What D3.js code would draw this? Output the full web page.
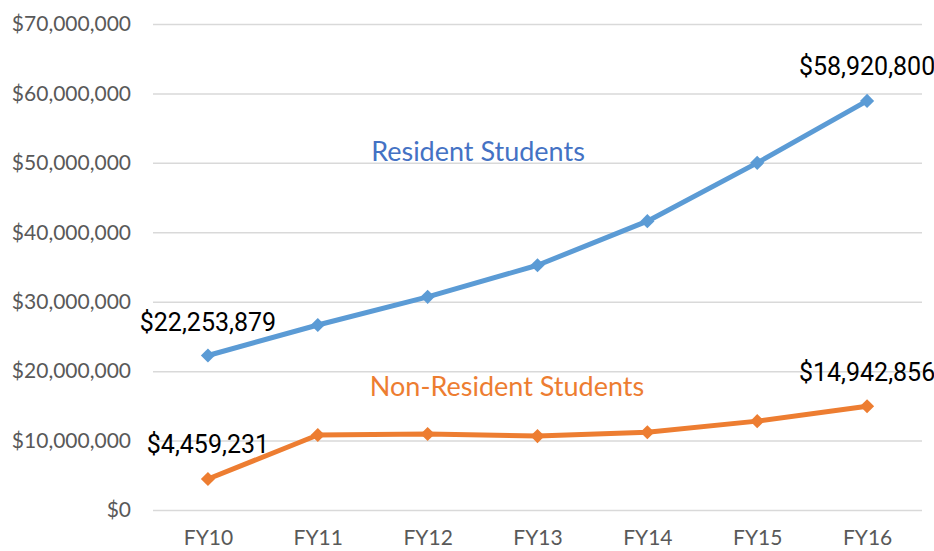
<!DOCTYPE html>
<html>
<head>
<meta charset="utf-8">
<script src="https://cdn.jsdelivr.net/npm/d3@7"></script>
<style>
  body { margin: 0; background: #fff; }
</style>
</head>
<body>
<div id="chart"></div>
<script>
// data
const years = ["FY10", "FY11", "FY12", "FY13", "FY14", "FY15", "FY16"];
const resident = [22253879, 26650000, 30700000, 35250000, 41600000, 50000000, 58920800];
const nonResident = [4459231, 10800000, 10950000, 10650000, 11200000, 12800000, 14942856];
const yTicks = [0, 10000000, 20000000, 30000000, 40000000, 50000000, 60000000, 70000000];

const width = 934,
  height = 551;
const margin = { top: 24, right: 12, bottom: 41, left: 153 };

const svg = d3
  .select("#chart")
  .append("svg")
  .attr("width", width)
  .attr("height", height)
  .attr("viewBox", [0, 0, width, height]);

const xScale = d3
  .scalePoint()
  .domain(years)
  .range([margin.left, width - margin.right])
  .padding(0.5);

const yScale = d3
  .scaleLinear()
  .domain([0, 70000000])
  .range([height - margin.bottom, margin.top]);

const fmt = (v) => "$" + d3.format(",")(v);

// gridlines + y labels
const yAxis = d3
  .axisLeft(yScale)
  .tickValues(yTicks)
  .tickSize(-(width - margin.left - margin.right))
  .tickPadding(22)
  .tickFormat(fmt);

const yG = svg
  .append("g")
  .attr("transform", `translate(${margin.left},0)`)
  .call(yAxis);
yG.select(".domain").remove();
yG.selectAll("line").attr("stroke", "#d9d9d9").attr("stroke-width", 1.5);
yG.selectAll("text")
  .attr("fill", "#595959")
  .style("font-family", "Lato, 'Open Sans', sans-serif")
  .style("font-size", "21px");

// x labels
const xAxis = d3.axisBottom(xScale).tickSize(0).tickPadding(20);
const xG = svg
  .append("g")
  .attr("transform", `translate(0,${height - margin.bottom})`)
  .call(xAxis);
xG.select(".domain").remove();
xG.selectAll("text")
  .attr("fill", "#595959")
  .style("font-family", "Lato, 'Open Sans', sans-serif")
  .style("font-size", "21px");

const series = [
  { name: "Resident Students", values: resident, color: "#5b9bd5" },
  { name: "Non-Resident Students", values: nonResident, color: "#ed7d31" },
];

const line = d3
  .line()
  .x((d, i) => xScale(years[i]))
  .y((d) => yScale(d));

series.forEach((s) => {
  svg
    .append("path")
    .datum(s.values)
    .attr("fill", "none")
    .attr("stroke", s.color)
    .attr("stroke-width", 5)
    .attr("stroke-linejoin", "round")
    .attr("d", line);

  // diamond markers
  svg
    .append("g")
    .selectAll("path")
    .data(s.values)
    .join("path")
    .attr("d", d3.symbol(d3.symbolSquare, 100))
    .attr("transform", (d, i) => `translate(${xScale(years[i])},${yScale(d)}) rotate(45)`)
    .attr("fill", s.color);
});

// series names
svg
  .append("text")
  .attr("x", 478)
  .attr("y", 161)
  .attr("text-anchor", "middle")
  .attr("fill", "#4472c4")
  .style("font-family", "Lato, 'Open Sans', sans-serif")
  .style("font-size", "27px")
  .text("Resident Students");

svg
  .append("text")
  .attr("x", 507)
  .attr("y", 396)
  .attr("text-anchor", "middle")
  .attr("fill", "#ed7d31")
  .style("font-family", "Lato, 'Open Sans', sans-serif")
  .style("font-size", "27px")
  .text("Non-Resident Students");

// data labels at the ends
const endLabels = [
  { value: resident[0], i: 0, dy: -24 },
  { value: resident[6], i: 6, dy: -26 },
  { value: nonResident[0], i: 0, dy: -26 },
  { value: nonResident[6], i: 6, dy: -25 },
];

svg
  .append("g")
  .selectAll("text")
  .data(endLabels)
  .join("text")
  .attr("x", (d) => xScale(years[d.i]))
  .attr("y", (d) => yScale(d.value) + d.dy)
  .attr("text-anchor", "middle")
  .attr("fill", "#000")
  .style("font-family", "Roboto, sans-serif")
  .style("font-size", "25px")
  .text((d) => fmt(d.value));
</script>
</body>
</html>
